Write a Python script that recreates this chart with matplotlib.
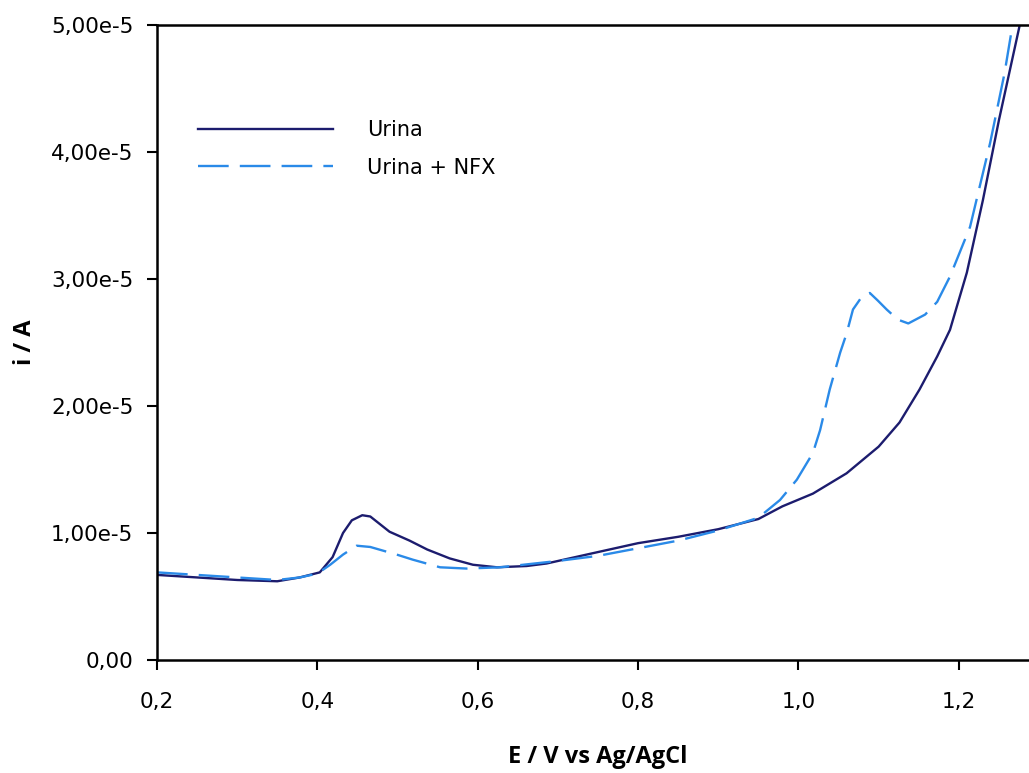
import matplotlib
matplotlib.use("Agg")
import matplotlib.pyplot as plt
from matplotlib.ticker import FuncFormatter

plt.rcParams['font.family'] = ['DejaVu Sans']

# Potential (V vs Ag/AgCl) and current (in units of 1e-5 A)
e_urina = [0.20, 0.25, 0.30, 0.35, 0.378, 0.403, 0.419, 0.432, 0.443, 0.456,
           0.466, 0.476, 0.49, 0.515, 0.537, 0.565, 0.594, 0.624, 0.661, 0.686,
           0.75, 0.80, 0.85, 0.90, 0.95, 0.98, 1.018, 1.06, 1.10, 1.126, 1.151,
           1.173, 1.189, 1.21, 1.23, 1.25, 1.276, 1.30]
i_urina = [0.67, 0.65, 0.63, 0.62, 0.65, 0.69, 0.81, 1.00, 1.10, 1.14,
           1.13, 1.08, 1.01, 0.94, 0.87, 0.80, 0.75, 0.73, 0.74, 0.76,
           0.85, 0.92, 0.97, 1.03, 1.11, 1.21, 1.31, 1.47, 1.68, 1.87, 2.13,
           2.39, 2.60, 3.05, 3.62, 4.25, 5.00, 5.90]

e_nfx = [0.20, 0.25, 0.30, 0.35, 0.378, 0.40, 0.416, 0.432, 0.449, 0.466,
         0.499, 0.519, 0.553, 0.586, 0.628, 0.70, 0.75, 0.80, 0.85, 0.90,
         0.95, 0.977, 0.998, 1.018, 1.027, 1.039, 1.052, 1.06, 1.068, 1.079,
         1.089, 1.099, 1.110, 1.124, 1.137, 1.158, 1.173, 1.189, 1.214,
         1.239, 1.257, 1.267, 1.28]
i_nfx = [0.69, 0.67, 0.65, 0.63, 0.65, 0.68, 0.75, 0.83, 0.90, 0.89,
         0.83, 0.79, 0.73, 0.72, 0.73, 0.78, 0.82, 0.88, 0.94, 1.02,
         1.12, 1.26, 1.42, 1.63, 1.81, 2.13, 2.42, 2.57, 2.76, 2.86,
         2.89, 2.83, 2.76, 2.68, 2.65, 2.72, 2.82, 3.02, 3.41,
         4.07, 4.62, 5.00, 5.50]

scale = 1e-5
x_ticks = [0.2, 0.4, 0.6, 0.8, 1.0, 1.2]
y_ticks = [0, 1e-5, 2e-5, 3e-5, 4e-5, 5e-5]

fig = plt.figure(figsize=(10.29, 7.73), dpi=100)
ax = fig.add_axes([157 / 1029, 113 / 773, 882 / 1029, 635 / 773])

ax.plot(e_urina, [v * scale for v in i_urina], color='#1c1c6e', lw=1.7,
        label='Urina')
ax.plot(e_nfx, [v * scale for v in i_nfx], color='#2a8ae8', lw=1.7,
        dashes=(13, 4.7), label='Urina + NFX')

ax.set_xlim(0.2, 1.3)
ax.set_ylim(0, 5e-5)
ax.set_xticks(x_ticks)
ax.set_yticks(y_ticks)


def fmt_x(v, _):
    return f"{v:.1f}".replace('.', ',')


def fmt_y(v, _):
    if abs(v) < 1e-12:
        return "0,00"
    m = v / 1e-5
    return f"{m:.2f}".replace('.', ',') + "e-5"


ax.xaxis.set_major_formatter(FuncFormatter(fmt_x))
ax.yaxis.set_major_formatter(FuncFormatter(fmt_y))
ax.tick_params(direction='out', length=7, width=1.5, labelsize=15.5)
ax.tick_params(axis='y', pad=10)
ax.tick_params(axis='x', pad=16)
for side in ['left', 'bottom', 'top']:
    ax.spines[side].set_linewidth(1.8)
ax.spines['right'].set_visible(False)

ax.set_xlabel('E / V vs Ag/AgCl', fontsize=17, fontweight='bold',
              family='Open Sans', labelpad=24)
ax.set_ylabel('i / A', fontsize=17, fontweight='bold', family='Open Sans')
# label sits about 120 px left of the y spine
ax.yaxis.set_label_coords(-120 / 882, 0.5)

ax.legend(loc='upper left', bbox_to_anchor=(198 / 1029, (773 - 120) / 773),
          bbox_transform=fig.transFigure, frameon=False, fontsize=15,
          handlelength=6.5, handletextpad=1.6, labelspacing=0.85,
          borderpad=0, borderaxespad=0)

fig.savefig('out.png', dpi=100)
